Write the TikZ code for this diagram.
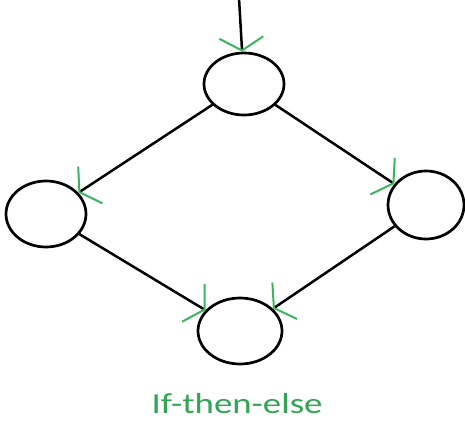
\documentclass[tikz,border=0pt]{standalone}
\usepackage{fontspec}
\setmainfont{Carlito}
\usetikzlibrary{arrows.meta,positioning,shapes.geometric}
\definecolor{tipgreen}{RGB}{60,180,95}
\definecolor{labelgreen}{RGB}{50,165,85}

\begin{document}
\begin{tikzpicture}[x=1pt,y=-1pt,
  block/.style={draw,ellipse,line width=2.7pt,minimum width=80pt,minimum height=62pt,inner sep=0pt},
  flow/.style={line width=2.5pt,-{Straight Barb[length=13pt,width=44pt,line width=2pt,color=tipgreen]}}]
\useasboundingbox (0,0) rectangle (465,425);
\coordinate (start) at (239,-2);
\node[block] (cond)  at (244,84)  {};
\node[block,minimum height=66pt] (thenb) at (46,214) {};
\node[block,minimum width=76pt,minimum height=68pt] (elseb) at (426,205) {};
\node[block,minimum width=84pt,minimum height=66pt] (join)  at (240,331) {};
\node[text=labelgreen,font=\fontsize{29}{32}\selectfont] (caption) at (237,404) {\scalebox{1.27}[1]{If-then-else}};
\path[flow]
(start) edge (cond)
(cond) edge (thenb) edge (elseb)
(thenb) edge (join)
(elseb) edge (join)
;
\end{tikzpicture}
\end{document}
